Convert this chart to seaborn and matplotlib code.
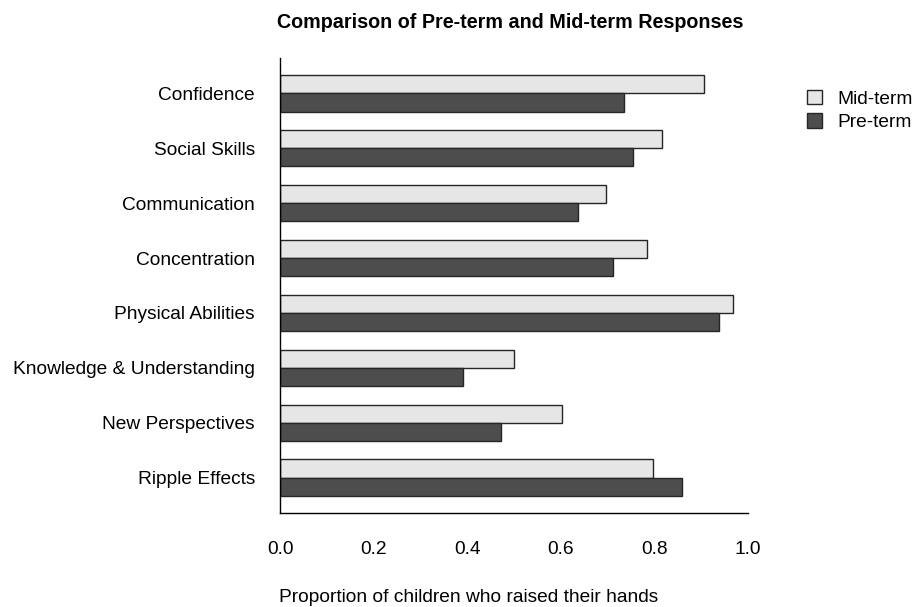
import matplotlib
matplotlib.use('Agg')
import matplotlib.pyplot as plt
import pandas as pd
import seaborn as sns

# Categorias del eje Y, de arriba hacia abajo
categorias = ['Confidence', 'Social Skills', 'Communication', 'Concentration',
              'Physical Abilities', 'Knowledge & Understanding',
              'New Perspectives', 'Ripple Effects']

# Proporciones
mid_term = [0.905, 0.817, 0.696, 0.785, 0.969, 0.501, 0.603, 0.798]
pre_term = [0.735, 0.754, 0.637, 0.711, 0.938, 0.390, 0.472, 0.860]

series = ['Mid-term', 'Pre-term']
colores = ['#E6E6E6', '#4D4D4D']
ticks_x = [0.0, 0.2, 0.4, 0.6, 0.8, 1.0]


def main():
    # Se arma el DataFrame en formato largo para seaborn
    df = pd.DataFrame({
        'categoria': categorias * 2,
        'valor': mid_term + pre_term,
        'serie': [series[0]] * len(categorias) + [series[1]] * len(categorias),
    })

    sns.set_style('white')
    plt.rcParams['font.family'] = ['Liberation Sans', 'DejaVu Sans']
    plt.rcParams['text.color'] = 'black'
    plt.rcParams['axes.labelcolor'] = 'black'
    plt.rcParams['xtick.color'] = 'black'
    plt.rcParams['ytick.color'] = 'black'

    fig = plt.figure(figsize=(9.17, 6.07), dpi=100)
    # Posicion de los ejes en pixeles: x 280-748, y 58-513
    ax = fig.add_axes([280 / 917, 94 / 607, 468 / 917, 455 / 607])

    sns.barplot(data=df, y='categoria', x='valor', hue='serie',
                order=categorias, hue_order=series, palette=colores,
                orient='h', width=2 / 3, edgecolor='#262626', linewidth=1,
                ax=ax)

    # Limites parecidos a los de R (extension del 4%)
    ax.set_xlim(0, 1.0)
    ax.set_ylim(7 + 1 / 3 + 0.307, -1 / 3 - 0.307)

    # Solo se dejan las lineas izquierda e inferior
    for lado in ['top', 'right']:
        ax.spines[lado].set_visible(False)
    for lado in ['left', 'bottom']:
        ax.spines[lado].set_color('black')
        ax.spines[lado].set_linewidth(1)

    ax.set_xticks(ticks_x)
    ax.set_xticklabels([f'{t:.1f}' for t in ticks_x])
    ax.tick_params(axis='x', direction='out', length=7, width=1,
                   color='black', pad=13, labelsize=13.8)
    ax.tick_params(axis='y', length=0, pad=18, labelsize=13.8)
    # En el original las etiquetas quedan un poco mas abajo
    for etiqueta in ax.get_yticklabels():
        etiqueta.set_va('center_baseline')

    ax.set_ylabel('')
    ax.set_xlabel('')

    # Etiqueta del eje X, centrada como en el original
    fig.text(469 / 917, 1 - 597 / 607,
             'Proportion of children who raised their hands',
             ha='center', va='center', fontsize=13.8)

    # Titulo en negrita centrado sobre los ejes
    fig.text(510 / 917, 1 - 22 / 607,
             'Comparison of Pre-term and Mid-term Responses',
             ha='center', va='center', fontsize=14.2, fontweight='bold')

    # Leyenda fuera del area de los ejes, arriba a la derecha
    handles, labels = ax.get_legend_handles_labels()
    ax.get_legend().remove()
    fig.legend(handles, labels, loc='upper left',
               bbox_to_anchor=(797 / 917, 1 - 80 / 607), frameon=False,
               fontsize=13.8, handlelength=0.8, handleheight=0.8,
               handletextpad=0.8, labelspacing=0.3, borderpad=0)

    fig.savefig('out.png', dpi=100)


if __name__ == '__main__':
    main()
